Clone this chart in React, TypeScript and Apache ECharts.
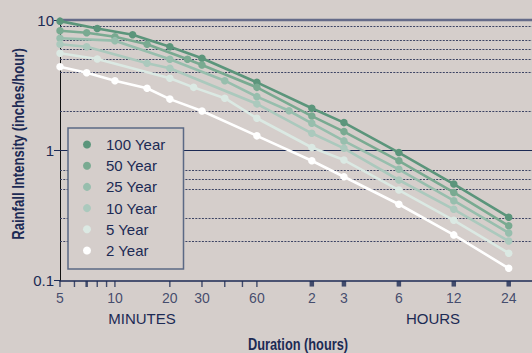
import React, { useEffect, useRef } from 'react';
import * as echarts from 'echarts';

// ---- data (minutes, inches/hour) ----
const seriesNames = ['100 Year', '50 Year', '25 Year', '10 Year', '5 Year', '2 Year'];
const year100 = [[5, 9.8], [8, 8.6], [12.5, 7.7], [20, 6.24], [30, 5.08], [60, 3.32], [120, 2.1], [180, 1.63], [360, 0.96], [720, 0.55], [1440, 0.306]];
const year50 = [[5, 8.28], [7, 7.99], [10, 7.44], [15, 6.51], [25, 4.99], [30, 4.51], [60, 3.04], [120, 1.83], [180, 1.39], [360, 0.83], [720, 0.474], [1440, 0.263]];
const year25 = [[5, 7.24], [10, 6.94], [20, 4.99], [40, 3.42], [60, 2.58], [90, 2.01], [120, 1.61], [180, 1.18], [360, 0.714], [720, 0.41], [1440, 0.232]];
const year10 = [[5, 6.51], [7, 6.24], [15, 4.65], [20, 4.26], [60, 2.27], [120, 1.35], [180, 1.035], [360, 0.591], [720, 0.352], [1440, 0.201]];
const year5 = [[5, 5.55], [8, 5.02], [20, 3.57], [27, 3.04], [40, 2.51], [60, 1.76], [120, 1.05], [180, 0.841], [360, 0.495], [720, 0.29], [1440, 0.162]];
const year2 = [[5, 4.38], [7, 3.94], [10, 3.42], [15, 2.99], [20, 2.47], [30, 2.0], [60, 1.29], [120, 0.831], [180, 0.626], [360, 0.385], [720, 0.224], [1440, 0.124]];
const seriesData = [year100, year50, year25, year10, year5, year2];

// x axis ticks (minutes)
const minuteTicks = [5, 6, 7, 8, 9, 10, 20, 30, 40, 50, 60];
const minuteTickLabels = ['5', '', '', '', '', '10', '20', '30', '', '', '60'];
const hourTicks = [120, 180, 360, 720, 1440];
const hourTickLabels = ['2', '3', '6', '12', '24'];

// y reference lines
const dashedGridValues = [9, 7, 6, 5, 4, 2, 0.7, 0.6, 0.5, 0.3, 0.2];
const solidGridValues = [1];

const X_MIN = 5;
const X_MAX = 1932;
const Y_MIN = 0.1;
const Y_MAX = 10;

const seriesColors = ['#5b957b', '#79aa91', '#97bead', '#abc9bd', '#dbe9e3', '#ffffff'];
const NAVY = '#1c2a54';
const BG = '#d5cecb';
const FONT = '"Liberation Sans", Arial, Helvetica, sans-serif';

export default function App() {
  const ref = useRef<HTMLDivElement>(null);

  useEffect(() => {
    if (!ref.current) return;
    const chart = echarts.init(ref.current, null, { renderer: 'svg' });

    const lineSeries = seriesNames.map((name, i) => ({
      name,
      type: 'line',
      data: seriesData[i],
      symbol: 'circle',
      symbolSize: 7.5,
      showSymbol: true,
      lineStyle: { color: seriesColors[i], width: 2.6 },
      itemStyle: { color: seriesColors[i] },
      emphasis: { disabled: true },
      z: 3,
    }));

    const tickItems = [
      ...minuteTicks.map((t, i) => ({
        name: minuteTickLabels[i],
        value: [t, Y_MIN],
        symbol: 'rect',
        symbolSize: [t === 7 ? 2.5 : 1.4, 6],
        symbolOffset: [0, 3.5],
      })),
      ...hourTicks.map((t, i) => ({
        name: hourTickLabels[i],
        value: [t, Y_MIN],
        symbol: 'rect',
        symbolSize: [4.5, 5.5],
        symbolOffset: [0, 3.3],
      })),
    ];

    chart.setOption({
      animation: false,
      backgroundColor: BG,
      textStyle: { fontFamily: FONT },
      grid: { left: 60, right: 0, top: 20, bottom: 72.5, containLabel: false },
      xAxis: {
        type: 'log',
        logBase: 10,
        min: X_MIN,
        max: X_MAX,
        axisLine: { show: true, lineStyle: { color: NAVY, width: 1.6 } },
        axisTick: { show: false },
        axisLabel: { show: false },
        splitLine: { show: false },
      },
      yAxis: {
        type: 'log',
        logBase: 10,
        min: Y_MIN,
        max: Y_MAX,
        axisLine: { show: true, lineStyle: { color: '#111111', width: 1 } },
        axisTick: { show: true, length: 6, lineStyle: { color: NAVY } },
        axisLabel: { show: true, fontSize: 15, color: NAVY, margin: 6, fontFamily: FONT },
        splitLine: { show: false },
      },
      legend: {
        data: seriesNames,
        orient: 'vertical',
        left: 68,
        top: 128,
        icon: 'circle',
        itemWidth: 28,
        itemHeight: 8,
        itemGap: 6.2,
        padding: [9, 18, 11, 15],
        backgroundColor: BG,
        borderColor: '#5b6985',
        borderWidth: 1.5,
        borderRadius: 0,
        selectedMode: false,
        textStyle: { fontSize: 15, color: NAVY, fontFamily: FONT },
        z: 10,
      },
      graphic: [
        {
          type: 'text',
          x: 18.5,
          y: 144,
          rotation: Math.PI / 2,
          scaleX: 0.82,
          style: {
            text: 'Rainfall Intensity (inches/hour)',
            fill: NAVY,
            font: `bold 16px ${FONT}`,
            textAlign: 'center',
            textVerticalAlign: 'middle',
          },
        },
        {
          type: 'text',
          x: 298,
          y: 344.5,
          scaleX: 0.8,
          style: {
            text: 'Duration (hours)',
            fill: NAVY,
            font: `bold 16px ${FONT}`,
            textAlign: 'center',
            textVerticalAlign: 'middle',
          },
        },
        {
          type: 'text',
          x: 142,
          y: 318,
          style: { text: 'MINUTES', fill: NAVY, font: `15px ${FONT}`, textAlign: 'center', textVerticalAlign: 'middle' },
        },
        {
          type: 'text',
          x: 433,
          y: 318,
          style: { text: 'HOURS', fill: NAVY, font: `15px ${FONT}`, textAlign: 'center', textVerticalAlign: 'middle' },
        },
      ],
      series: [
        {
          name: 'gridlines',
          type: 'line',
          data: [],
          silent: true,
          z: 1,
          markLine: {
            silent: true,
            z: 1,
            symbol: ['none', 'none'],
            label: { show: false },
            emphasis: { disabled: true },
            data: [
              { yAxis: Y_MAX, lineStyle: { color: '#656b89', width: 2.4, type: 'solid' } },
              ...solidGridValues.map((v) => ({ yAxis: v, lineStyle: { color: NAVY, width: 1.2, type: 'solid' } })),
              ...dashedGridValues.map((v) => ({ yAxis: v, lineStyle: { color: '#3d4464', width: 1, type: [2, 1.3] } })),
            ],
          },
        },
        ...lineSeries,
        {
          name: 'ticks',
          type: 'scatter',
          data: tickItems,
          clip: false,
          silent: true,
          z: 4,
          itemStyle: { color: NAVY },
          label: {
            show: true,
            position: 'bottom',
            distance: 4,
            formatter: '{b}',
            fontSize: 14,
            color: NAVY,
            fontFamily: FONT,
          },
          emphasis: { disabled: true },
        },
      ],
    });

    return () => chart.dispose();
  }, []);

  return (
    <div
      ref={ref}
      style={{ position: 'fixed', left: 0, top: 0, width: 532, height: 353, background: BG }}
    />
  );
}
